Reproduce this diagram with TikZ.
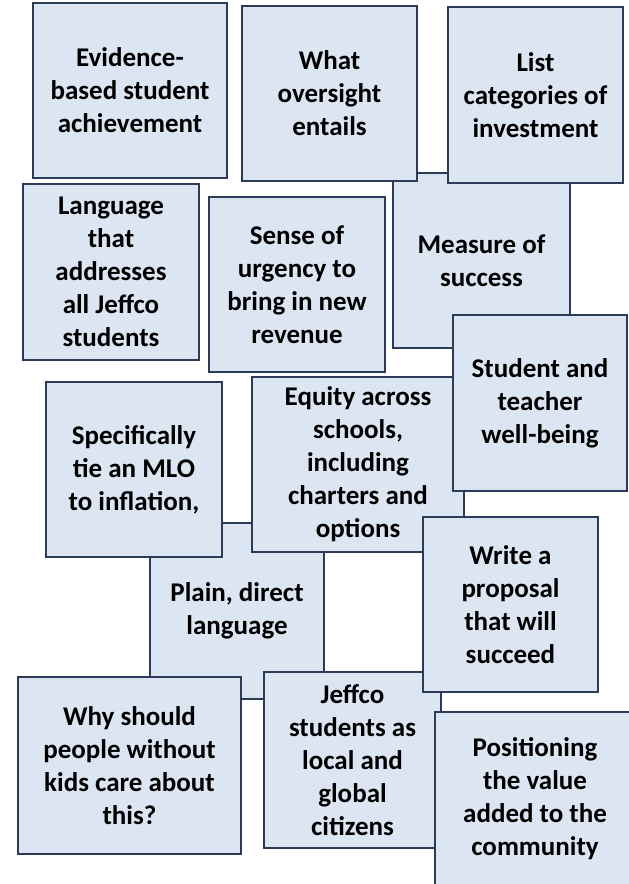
\documentclass[tikz,border=0pt]{standalone}
\usepackage{fontspec}
\setmainfont{Carlito}
\definecolor{cardfill}{HTML}{DCE6F2}
\definecolor{cardline}{HTML}{2B3B58}
\tikzset{card/.style={draw=cardline, fill=cardfill, line width=1.8pt, align=center,
  font=\bfseries\fontsize{27}{33}\selectfont, inner sep=0pt, anchor=center}}
\begin{document}
\begin{tikzpicture}[x=1pt,y=-1pt]
\fill[white] (0,0) rectangle (629,884);
\useasboundingbox (0,0) rectangle (629,884);
\node[card, minimum width=177, minimum height=175] (measure) at (481.5,260.5) {Measure of\\success};
\node[card, minimum width=175, minimum height=175] (what) at (329.5,93.5) {What\\oversight\\entails};
\node[card, minimum width=175, minimum height=176] (list) at (535.5,95) {List\\categories of\\investment};
\node[card, minimum width=194, minimum height=175] (evidence) at (130,90.5) {Evidence-\\based student\\achievement};
\node[card, minimum width=176, minimum height=176] (language) at (111,272) {Language\\that\\addresses\\all Jeffco\\students};
\node[card, minimum width=176, minimum height=175] (sense) at (297,284.5) {Sense of\\urgency to\\bring in new\\revenue};
\node[card, minimum width=174, minimum height=176] (plain) at (237,611) {Plain, direct\\language};
\node[card, minimum width=176, minimum height=175] (specific) at (134,469.5) {Specifically\\tie an MLO\\to inflation,};
\node[card, minimum width=212, minimum height=175] (equity) at (358,464.5) {Equity across\\schools,\\including\\charters and\\options};
\node[card, minimum width=174, minimum height=176] (student) at (540,403) {Student and\\teacher\\well-being};
\node[card, minimum width=177, minimum height=176] (jeffco) at (352.5,760) {Jeffco\\students as\\local and\\global\\citizens};
\node[card, minimum width=175, minimum height=175] (write) at (510.5,604.5) {Write a\\proposal\\that will\\succeed};
\node[card, minimum width=223, minimum height=177] (why) at (129.5,765.5) {Why should\\people without\\kids care about\\this?};
\node[card, minimum width=200, minimum height=174] (position) at (535,799) {Positioning\\the value\\added to the\\community};
\end{tikzpicture}
\end{document}
